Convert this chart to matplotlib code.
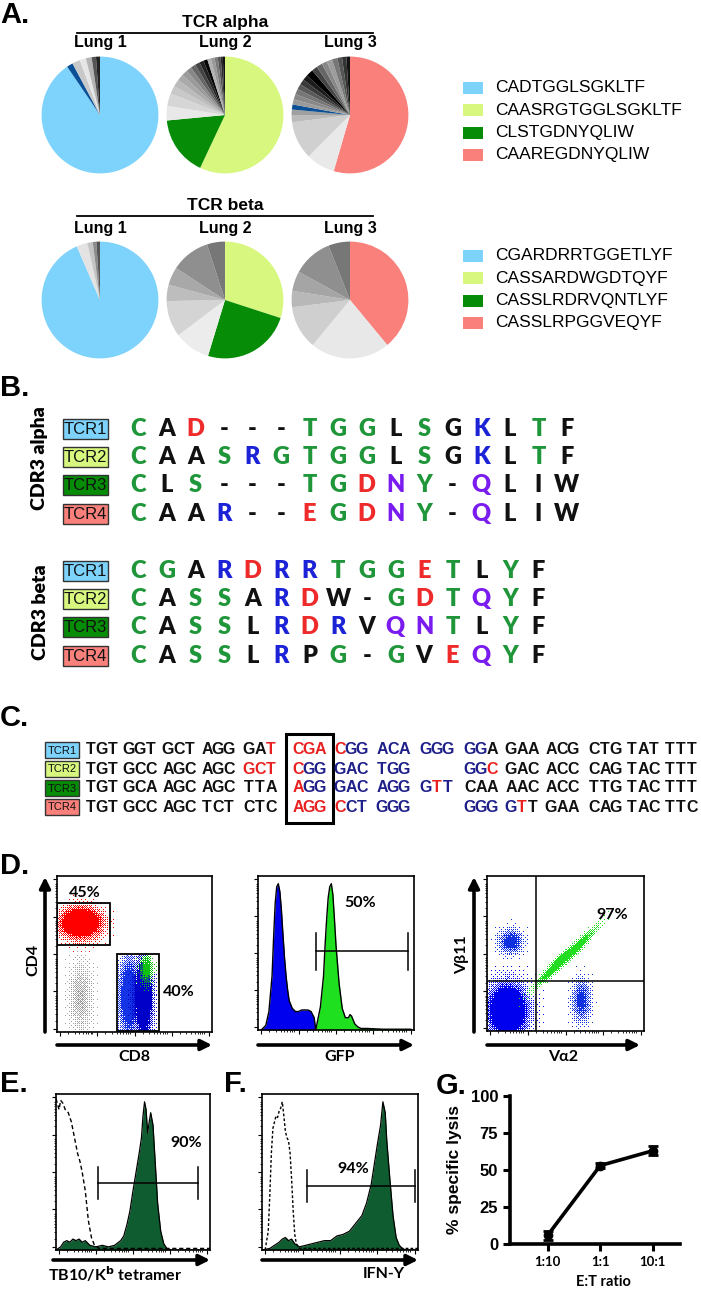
import numpy as np
import matplotlib
matplotlib.use('Agg')
from matplotlib import pyplot as plt
from matplotlib.patches import Rectangle, FancyArrowPatch
from matplotlib.colors import to_rgb

plt.rcParams['font.family'] = ['Liberation Sans', 'DejaVu Sans']

# ---------------- data ----------------
LBLUE, LIME, GREEN, SALMON, DBLUE = '#7dd3fb', '#d8f77f', '#078c07', '#f9807b', '#0b4f96'
clone_colors = [LBLUE, LIME, GREEN, SALMON]
alpha_clones = ['CADTGGLSGKLTF', 'CAASRGTGGLSGKLTF', 'CLSTGDNYQLIW', 'CAAREGDNYQLIW']
beta_clones = ['CGARDRRTGGETLYF', 'CASSARDWGDTQYF', 'CASSLRDRVQNTLYF', 'CASSLRPGGVEQYF']
lungs = ['Lung 1', 'Lung 2', 'Lung 3']

# clone frequencies (%), clockwise from 12 o'clock
alpha_pies = [
    [90.5, 1.7, 2.2, 1.7, 1.6, 1.2, 1.1],
    [57.0, 16.5, 4.0, 3.5, 2.2, 2.0, 1.8, 1.6, 1.5, 1.4, 1.3, 1.2, 1.1, 1.0, 1.0, 0.9, 0.8, 0.6, 0.6],
    [54.5, 8.0, 10.5, 2.0, 1.5, 1.4, 1.4, 1.5, 1.5, 1.5, 1.5, 1.5, 2.0, 1.6, 1.6, 1.5, 1.5, 1.5, 1.3, 1.2, 1.0],
]
alpha_pie_colors = [
    [LBLUE, DBLUE, '#c8c8c8', '#e6e6e6', '#b4b4b4', '#555555', '#222222'],
    [LIME, GREEN, '#e8e8e8', '#d6d6d6', '#c8c8c8', '#bbbbbb', '#aaaaaa', '#9a9a9a', '#888888', '#666666',
     '#444444', '#222222', '#050505', '#b0b0b0', '#999999', '#7a7a7a', '#555555', '#2a2a2a', '#111111'],
    [SALMON, '#e9e9e9', '#d0d0d0', '#bbbbbb', '#a0a0a0', DBLUE, '#9a9a9a', '#888888', '#777777', '#5a5a5a',
     '#3a3a3a', '#1c1c1c', '#000000', '#444444', '#666666', '#888888', '#9c9c9c', '#777777', '#555555',
     '#333333', '#111111'],
]
beta_pies = [
    [93.5, 3.0, 1.5, 1.0, 1.0],
    [30.0, 24.7, 10.0, 10.0, 4.5, 5.0, 10.8, 5.0],
    [39.0, 22.0, 12.0, 4.5, 5.5, 11.0, 6.0],
]
beta_pie_colors = [
    [LBLUE, '#e3e3e3', '#c4c4c4', '#8c8c8c', '#555555'],
    [LIME, GREEN, '#ececec', '#d4d4d4', '#bdbdbd', '#a8a8a8', '#8f8f8f', '#777777'],
    [SALMON, '#e8e8e8', '#cfcfcf', '#b8b8b8', '#a5a5a5', '#8f8f8f', '#777777'],
]

# CDR3 alignments (g=green, k=black, r=red, b=blue, p=purple)
alpha_seqs = ['CAD---TGGLSGKLTF', 'CAASRGTGGLSGKLTF', 'CLS---TGDNY-QLIW', 'CAAR--EGDNY-QLIW']
alpha_cols = ['gkrkkkgggkgkbkgk', 'gkkgbggggkgkbkgk', 'gkgkkkggrpgkpkkk', 'gkkbkkrgrpgkpkkk']
beta_seqs = ['CGARDRRTGGETLYF', 'CASSARDW-GDTQYF', 'CASSLRDRVQNTLYF', 'CASSLRPG-GVEQYF']
beta_cols = ['ggkbrbbgggrgkgk', 'gkggkbrkkgrgpgk', 'gkggkbrbkppgkgk', 'gkggkbkgkgkrpgk']
tcr_names = ['TCR1', 'TCR2', 'TCR3', 'TCR4']

# nucleotide codons (k=black, r=red, n=navy)
codons = [
    'TGT GGT GCT AGG GAT CGA CGG ACA GGG GGA GAA ACG CTG TAT TTT'.split(),
    'TGT GCC AGC AGC GCT CGG GAC TGG --- GGC GAC ACC CAG TAC TTT'.split(),
    'TGT GCA AGC AGC TTA AGG GAC AGG GTT CAA AAC ACC TTG TAC TTT'.split(),
    'TGT GCC AGC TCT CTC AGG CCT GGG --- GGG GTT GAA CAG TAC TTC'.split(),
]
codon_cols = [
    'kkk kkk kkk kkk kkr rrr rnn nnn nnn nnk kkk kkk kkk kkk kkk'.split(),
    'kkk kkk kkk kkk rrr rnn nnn nnn --- nnr kkk kkk kkk kkk kkk'.split(),
    'kkk kkk kkk kkk kkk rnn nnn nnn nrn kkk kkk kkk kkk kkk kkk'.split(),
    'kkk kkk kkk kkk kkk rrr rnn nnn --- nnn nrk kkk kkk kkk kkk'.split(),
]

# flow populations: centre x, centre y, sd x, sd y, correlation, colour, gain
cd4cd8_pops = [
    (0.15, 0.22, 0.045, 0.14, 0.0, '#a0a0a0', 0.6),
    (0.47, 0.22, 0.040, 0.15, 0.0, '#1434e6', 1.8),
    (0.56, 0.22, 0.035, 0.15, 0.0, '#0000c8', 2.4),
    (0.58, 0.40, 0.025, 0.06, 0.0, '#10c010', 1.2),
    (0.15, 0.70, 0.075, 0.055, 0.0, '#ff0000', 3.0),
]
vavb_pops = [
    (0.13, 0.13, 0.075, 0.10, 0.0, '#0000ee', 2.6),
    (0.15, 0.58, 0.045, 0.045, 0.0, '#1030e0', 1.3),
    (0.60, 0.19, 0.035, 0.08, 0.0, '#1030e0', 1.1),
    (0.50, 0.475, 0.10, 0.10, 0.975, '#22dd22', 2.4),
]

# histograms (fraction of axis)
gfp_neg_x = [0.02, 0.05, 0.07, 0.09, 0.10, 0.11, 0.12, 0.13, 0.14, 0.15, 0.16, 0.17, 0.18, 0.19, 0.20,
             0.22, 0.24, 0.26, 0.28, 0.30, 0.32, 0.34, 0.36, 0.37]
gfp_neg_y = [0.0, 0.03, 0.12, 0.35, 0.60, 0.82, 0.93, 0.95, 0.90, 0.78, 0.62, 0.47, 0.35, 0.26, 0.19,
             0.14, 0.12, 0.12, 0.13, 0.13, 0.13, 0.12, 0.08, 0.0]
gfp_pos_x = [0.37, 0.38, 0.40, 0.42, 0.43, 0.44, 0.45, 0.46, 0.47, 0.48, 0.49, 0.50, 0.52, 0.54, 0.56,
             0.58, 0.59, 0.60, 0.62, 0.64, 0.66, 0.70, 0.80, 0.98]
gfp_pos_y = [0.0, 0.05, 0.15, 0.35, 0.55, 0.72, 0.86, 0.93, 0.95, 0.88, 0.72, 0.55, 0.30, 0.14, 0.08,
             0.08, 0.10, 0.09, 0.04, 0.02, 0.01, 0.01, 0.005, 0.005]

tet_ctrl_x = [0.0, 0.02, 0.03, 0.045, 0.06, 0.08, 0.10, 0.12, 0.14, 0.155, 0.17, 0.19, 0.21, 0.23, 0.25,
              0.28, 1.0]
tet_ctrl_y = [0.97, 0.90, 0.96, 0.94, 0.90, 0.88, 0.82, 0.72, 0.62, 0.57, 0.50, 0.38, 0.19, 0.08, 0.03,
              0.01, 0.01]
tet_x = [0.0, 0.03, 0.05, 0.07, 0.09, 0.11, 0.13, 0.15, 0.17, 0.19, 0.22, 0.26, 0.30, 0.34, 0.38, 0.42,
         0.44, 0.46, 0.48, 0.50, 0.52, 0.54, 0.555, 0.565, 0.575, 0.585, 0.595, 0.605, 0.615, 0.63, 0.645,
         0.66, 0.68, 0.70, 0.72, 0.75, 1.0]
tet_y = [0.0, 0.02, 0.05, 0.06, 0.05, 0.07, 0.06, 0.07, 0.05, 0.06, 0.03, 0.02, 0.03, 0.02, 0.03, 0.06,
         0.09, 0.16, 0.25, 0.38, 0.50, 0.62, 0.72, 0.86, 0.95, 0.90, 0.75, 0.82, 0.88, 0.80, 0.55,
         0.30, 0.12, 0.04, 0.01, 0.0, 0.0]
ifn_ctrl_x = [0.02, 0.04, 0.05, 0.06, 0.07, 0.08, 0.09, 0.10, 0.11, 0.12, 0.13, 0.14, 0.15, 0.16, 0.17,
              0.18, 0.19, 0.20, 0.21, 0.22, 0.24, 0.30, 1.0]
ifn_ctrl_y = [0.0, 0.12, 0.35, 0.62, 0.78, 0.82, 0.86, 0.85, 0.89, 0.91, 0.95, 0.86, 0.76, 0.72, 0.70,
              0.62, 0.45, 0.25, 0.10, 0.04, 0.01, 0.01, 0.01]
ifn_x = [0.0, 0.05, 0.08, 0.11, 0.13, 0.15, 0.17, 0.19, 0.21, 0.24, 0.28, 0.32, 0.36, 0.40, 0.44, 0.48,
         0.52, 0.56, 0.60, 0.64, 0.67, 0.70, 0.72, 0.74, 0.76, 0.775, 0.79, 0.80, 0.82, 0.84, 0.86, 0.88,
         0.90, 0.92, 1.0]
ifn_y = [0.0, 0.01, 0.03, 0.05, 0.07, 0.08, 0.06, 0.07, 0.04, 0.02, 0.03, 0.04, 0.05, 0.06, 0.06, 0.09,
         0.10, 0.12, 0.17, 0.22, 0.30, 0.42, 0.55, 0.68, 0.80, 0.95, 0.88, 0.70, 0.45, 0.22, 0.08, 0.03,
         0.01, 0.0, 0.0]

# killing assay
et_ratio = ['1:10', '1:1', '10:1']
lysis = [6, 53, 63]
lysis_err = [3, 1.5, 3]

# ---------------- helpers (pixel layout) ----------------
W, H = 701, 1292
fig = plt.figure(figsize=(W / 100, H / 100), dpi=100)


def fp(x, y):
    return x / W, 1 - y / H


def box(x0, y0, w, h):
    return fig.add_axes([x0 / W, 1 - (y0 + h) / H, w / W, h / H])


def ftext(x, y, s, **kw):
    kw.setdefault('ha', 'center')
    kw.setdefault('va', 'center')
    return fig.text(x / W, 1 - y / H, s, **kw)


def farrow(x0, y0, x1, y1):
    fig.add_artist(FancyArrowPatch(fp(x0, y0), fp(x1, y1), transform=fig.transFigure,
                                   arrowstyle='-|>', mutation_scale=16, lw=2.6, color='k',
                                   shrinkA=0, shrinkB=0))


def panel_label(x, y, s):
    ftext(x, y, s, ha='left', fontsize=21, fontweight='bold')


LATO = ['Lato', 'DejaVu Sans']
NARROW = ['Liberation Sans Narrow', 'Liberation Sans']

# ---------------- A: pies ----------------
panel_label(0, 15, 'A.')
pie_x = [100, 225, 350]
for title, ty, ly, py, pies, pcols, clones, legy in [
        ('TCR alpha', 23, 43, 115, alpha_pies, alpha_pie_colors, alpha_clones, 88),
        ('TCR beta', 206, 228, 300, beta_pies, beta_pie_colors, beta_clones, 256)]:
    ftext(225, ty, title, fontsize=12.5, fontweight='bold')
    fig.add_artist(plt.Line2D([77 / W, 373 / W], [1 - (ty + 10) / H] * 2, color='k', lw=1.3))
    for i in range(3):
        ftext(pie_x[i], ly, lungs[i], fontsize=11.5, fontweight='bold')
        ax = box(pie_x[i] - 59, py - 59, 118, 118)
        ax.pie(pies[i], colors=pcols[i], startangle=90, counterclock=False,
               wedgeprops={'linewidth': 0})
        ax.set_xlim(-1.01, 1.01)
        ax.set_ylim(-1.01, 1.01)
    for j in range(4):
        yy = legy + 22.3 * j
        fig.add_artist(Rectangle(fp(463, yy + 6), 20 / W, 12 / H, transform=fig.transFigure,
                                 facecolor=clone_colors[j], edgecolor='none'))
        ftext(495, yy, clones[j], ha='left', fontsize=12.5)

# ---------------- B: CDR3 alignments ----------------
panel_label(0, 388, 'B.')
aa_colors = {'g': '#20963a', 'k': '#111111', 'r': '#ee2a2a', 'b': '#1c22d6', 'p': '#7a1cf0'}


def tcr_tag(x0, yc, w, h, j, fs):
    fig.add_artist(Rectangle(fp(x0, yc + h / 2), w / W, h / H, transform=fig.transFigure,
                             facecolor=clone_colors[j], edgecolor='#333333', lw=1))
    ftext(x0 + w / 2, yc + 0.5, tcr_names[j], fontsize=fs, family=NARROW, color='#111111')


for label, ly, y0, seqs, cols in [('CDR3 alpha', 458, 429, alpha_seqs, alpha_cols),
                                  ('CDR3 beta', 612, 571, beta_seqs, beta_cols)]:
    ftext(40, ly, label, rotation=90, fontsize=14, fontweight='heavy', family=LATO)
    for j in range(4):
        yc = y0 + 28.2 * j
        tcr_tag(63, yc, 45, 20, j, 12)
        for i, (ch, c) in enumerate(zip(seqs[j], cols[j])):
            ftext(138 + 28.6 * i, yc, ch, fontsize=17, fontweight='heavy', family=LATO,
                  color=aa_colors[c])

# ---------------- C: codons ----------------
panel_label(0, 718, 'C.')
nt_colors = {'k': '#111111', 'r': '#e8201f', 'n': '#1f1f8a'}
codon_x = [102, 140, 179, 218, 260, 309, 351, 393, 437, 481, 522, 562, 605, 643, 681]
for j in range(4):
    yc = 750 + 19.0 * j
    tcr_tag(45, yc, 34, 16, j, 8)
    for i, cod in enumerate(codons[j]):
        if cod == '---':
            continue
        for k, ch in enumerate(cod):
            ftext(codon_x[i] + (k - 1) * 11.0, yc, ch, fontsize=11.5, fontweight='bold',
                  color=nt_colors[codon_cols[j][i][k]])
fig.add_artist(Rectangle(fp(286, 823), 47 / W, 89 / H, transform=fig.transFigure,
                         facecolor='none', edgecolor='k', lw=2.2))

# ---------------- D/E/F: flow panels ----------------
decade_starts = [0.0, 0.24, 0.48, 0.72]


def flow_axes(x0, y0, w, h):
    ax = box(x0, y0, w, h)
    ax.set_xlim(0, 1)
    ax.set_ylim(0, 1)
    for s in ax.spines.values():
        s.set_linewidth(1.2)
    minor = [d + 0.24 * np.log10(k) for d in decade_starts for k in range(2, 10)]
    major = [d + 0.02 for d in decade_starts] + [0.98]
    ax.set_xticks(major)
    ax.set_yticks(major)
    ax.set_xticks([m for m in minor if m < 1], minor=True)
    ax.set_yticks([m for m in minor if m < 1], minor=True)
    ax.tick_params(which='major', length=3, width=0.8, direction='out',
                   labelbottom=False, labelleft=False)
    ax.tick_params(which='minor', length=1.5, width=0.6, direction='out')
    return ax


def bayer(n):
    m = np.array([[0, 2], [3, 1]])
    while m.shape[0] < n:
        m = np.block([[4 * m, 4 * m + 2], [4 * m + 3, 4 * m + 1]])
    return (m + 0.5) / m.size


def cloud(ax, pop, clip=None, n=156):
    # population drawn as a dithered density so it reads as dots
    cx, cy, sx, sy, rho, color, gain = pop
    g = np.linspace(0, 1, n)
    X, Y = np.meshgrid(g, g)
    dx, dy = (X - cx) / sx, (Y - cy) / sy
    d = np.exp(-0.5 * (dx ** 2 + dy ** 2 - 2 * rho * dx * dy) / (1 - rho ** 2))
    thr = np.tile(bayer(8), (n // 8 + 1, n // 8 + 1))[:n, :n]
    rgba = np.zeros(d.shape + (4,))
    rgba[..., :3] = to_rgb(color)
    rgba[..., 3] = (gain * d > thr).astype(float)
    im = ax.imshow(rgba, extent=(0, 1, 0, 1), origin='lower', aspect='auto',
                   interpolation='nearest')
    if clip is not None:
        im.set_clip_path(clip)


def gate(ax, x0, x1, y, half=0.1):
    ax.plot([x0, x1], [y, y], color='k', lw=1.1)
    ax.plot([x0, x0], [y - half, y + half], color='k', lw=1.1)
    ax.plot([x1, x1], [y - half, y + half], color='k', lw=1.1)


panel_label(0, 866, 'D.')
flow_font = dict(fontsize=11.5, fontweight='bold', family=LATO)

# CD4 vs CD8
ax = flow_axes(57, 876, 155, 156)
cd8_gate = Rectangle((0.39, 0.006), 0.27, 0.494, fill=False, ec='k', lw=1.3)
cd4_gate = Rectangle((0.0, 0.56), 0.34, 0.27, fill=False, ec='k', lw=1.3)
ax.add_patch(cd8_gate)
ax.add_patch(cd4_gate)
for pop in cd4cd8_pops:
    cloud(ax, pop, clip=cd8_gate if pop[0] > 0.4 else None)
ftext(85, 893, '45%', **flow_font)
ftext(179, 992, '40%', **flow_font)
farrow(57, 1045, 212, 1045)
farrow(45, 1032, 45, 877)
ftext(134, 1057, 'CD8', **flow_font)
ftext(33, 960, 'CD4', rotation=90, **flow_font)

# GFP histogram
ax = flow_axes(258, 876, 156, 154)
ax.fill_between(gfp_neg_x, gfp_neg_y, color='#0000ee', lw=0)
ax.plot(gfp_neg_x, gfp_neg_y, color='k', lw=1)
ax.fill_between(gfp_pos_x, gfp_pos_y, color='#1ee01e', lw=0)
ax.plot(gfp_pos_x, gfp_pos_y, color='k', lw=1)
gate(ax, 0.37, 0.96, 0.51, 0.12)
ftext(360, 903, '50%', **flow_font)
farrow(258, 1045, 414, 1045)
ftext(340, 1057, 'GFP', **flow_font)

# Va2 vs Vb11
ax = flow_axes(487, 876, 157, 155)
for pop in vavb_pops:
    cloud(ax, pop)
ax.axvline(0.31, color='k', lw=1.1)
ax.axhline(0.32, color='k', lw=1.1)
ftext(612, 915, '97%', **flow_font)
farrow(487, 1045, 640, 1045)
farrow(474, 1032, 474, 877)
ftext(563, 1057, 'V\u03b12', **flow_font)
ftext(462, 955, 'V\u03b211', rotation=90, **flow_font)

# E: tetramer
panel_label(0, 1084, 'E.')
ax = flow_axes(56, 1094, 154, 156)
ax.fill_between(tet_x, tet_y, color='#0e5c2f', lw=0)
ax.plot(tet_x, tet_y, color='k', lw=0.9)
ax.plot(tet_ctrl_x, tet_ctrl_y, color='k', lw=1, ls=(0, (3, 2)))
gate(ax, 0.27, 0.92, 0.43, 0.1)
ftext(186, 1143, '90%', **flow_font)
farrow(53, 1260, 210, 1260)
ftext(115, 1274, 'TB10/K$^\\mathbf{b}$ tetramer', **flow_font)

# F: IFN-gamma
panel_label(224, 1084, 'F.')
ax = flow_axes(262, 1094, 156, 156)
ax.fill_between(ifn_x, ifn_y, color='#0e5c2f', lw=0)
ax.plot(ifn_x, ifn_y, color='k', lw=0.9)
ax.plot(ifn_ctrl_x, ifn_ctrl_y, color='k', lw=1, ls=(0, (2, 1.5)))
gate(ax, 0.29, 0.98, 0.41, 0.1)
ftext(353, 1169, '94%', **flow_font)
farrow(262, 1260, 418, 1260)
ftext(384, 1274, 'IFN-Y', **flow_font)

# G: specific lysis
panel_label(436, 1086, 'G.')
ax = box(510, 1096, 170, 148)
xpos = np.arange(len(et_ratio))
ax.errorbar(xpos, lysis, yerr=lysis_err, color='k', lw=2.6, marker='o', ms=6,
            capsize=3.5, elinewidth=2, capthick=2)
ax.set_xlim(-0.72, 2.52)
ax.set_ylim(0, 100)
ax.set_yticks([0, 25, 50, 75, 100])
ax.set_xticks(xpos)
ax.set_xticklabels(et_ratio)
for s in ['top', 'right']:
    ax.spines[s].set_visible(False)
for s in ['left', 'bottom']:
    ax.spines[s].set_linewidth(2.6)
ax.tick_params(width=2.2, length=5)
for t in ax.get_yticklabels():
    t.set_fontsize(12)
    t.set_fontweight('bold')
for t in ax.get_xticklabels():
    t.set_fontsize(9.5)
    t.set_fontweight('bold')
    t.set_family(LATO)
ax.tick_params(axis='x', pad=4)
ax.set_ylabel('% specific lysis', fontsize=12.5, fontweight='bold', labelpad=6)
ax.patch.set_visible(False)
ftext(603, 1282, 'E:T ratio', fontsize=10.5, fontweight='bold', family=LATO)

fig.savefig('out.png', dpi=100)
